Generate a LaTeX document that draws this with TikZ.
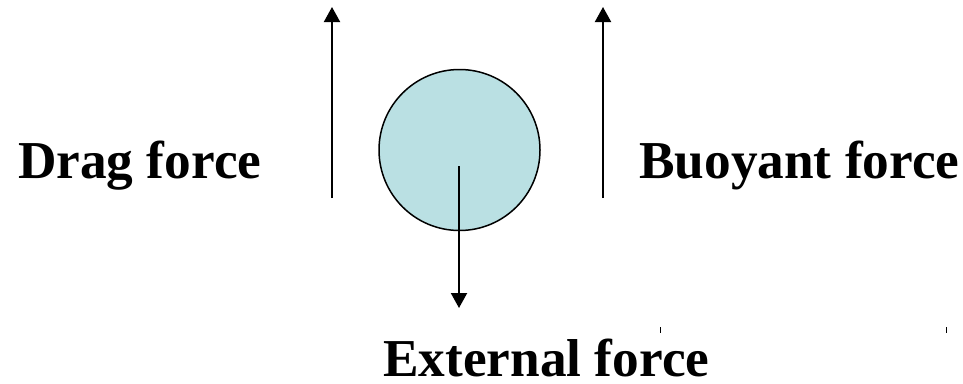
\documentclass[tikz,border=0pt]{standalone}
\usepackage{fontspec}
\setmainfont{Liberation Serif}
\usetikzlibrary{arrows.meta,positioning}
\definecolor{bolha}{RGB}{186,224,227}

\begin{document}
\begin{tikzpicture}[
    x=1pt, y=-1pt,
    rotulo/.style={
        inner sep=0pt, anchor=base west,
        font=\fontsize{53.3}{60}\selectfont\bfseries
    },
    bolinha/.style={
        circle, draw=black, line width=1.5pt, fill=bolha,
        minimum size=161pt, inner sep=0pt
    },
    forca/.style={-{Triangle[length=15pt,width=16pt]}, line width=2pt},
    marca/.style={line width=1pt}
]
\useasboundingbox (0,0) rectangle (963,383);

% Nós
\node[bolinha] (bola) at (459.5,150) {};
\node[rotulo] (arrasto) at (18,178) {Drag force};
\node[rotulo] (empuxo) at (639,178) {Buoyant force};
\node[rotulo] (externa) at (383,376) {External force};

% Pontos das setas
\coordinate (arrastoA) at (332,198);
\coordinate (arrastoB) at (332,7);
\coordinate (empuxoA) at (603,198);
\coordinate (empuxoB) at (603,7);
\coordinate (centro) at (459,166);
\coordinate (baixo) at (459,308);

% Setas
\draw[forca] (arrastoA) -- (arrastoB);
\draw[forca] (empuxoA) -- (empuxoB);
\draw[forca] (centro) -- (baixo);

% Marquinhas
\coordinate (m1) at (660,327);
\coordinate (m2) at (946,327);
\draw[marca] (m1) -- ++(0,6);
\draw[marca] (m2) -- ++(0,6);

\end{tikzpicture}
\end{document}
